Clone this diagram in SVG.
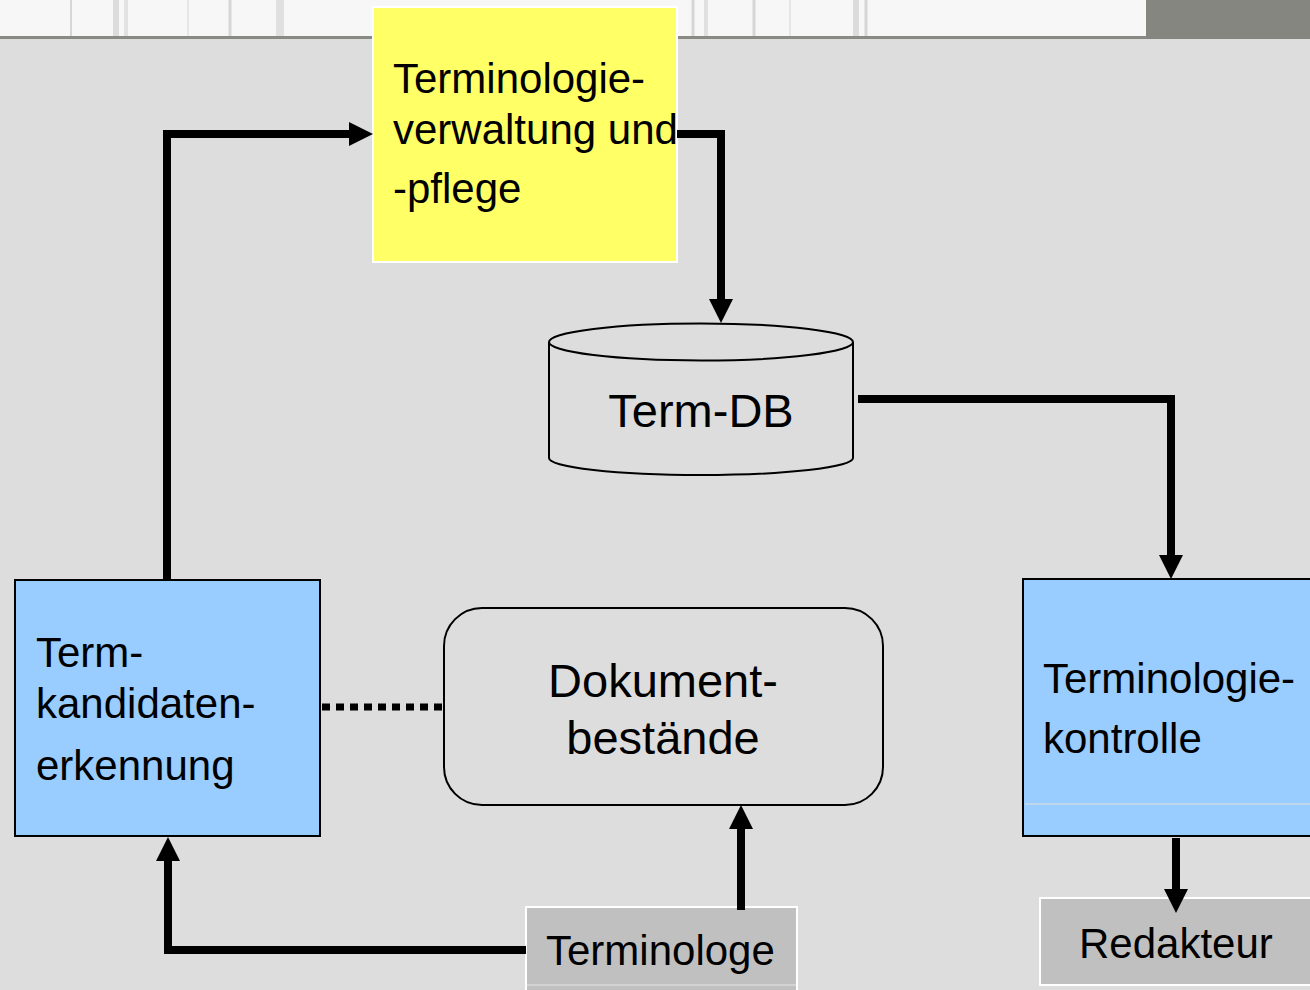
<svg xmlns="http://www.w3.org/2000/svg" width="1310" height="990" viewBox="0 0 1310 990">
<defs>
<style>
.t{font-family:"Liberation Sans",Arial,sans-serif;font-size:42px;fill:#000}
.tb{font-family:"Liberation Sans",Arial,sans-serif;font-size:47px;fill:#000}
.c{fill:none;stroke:#000;stroke-width:8;stroke-linejoin:miter}
.blue{fill:#99ccff;stroke:#000;stroke-width:2}
.grey{fill:#c0c0c0;stroke:#fff;stroke-width:2}
.streak{stroke:#d6d6d6;stroke-width:3}
</style>
<marker id="ah" viewBox="0 0 10 10" markerWidth="24" markerHeight="24" markerUnits="userSpaceOnUse" refX="0" refY="5" orient="auto">
<path d="M0,0 L10,5 L0,10 z" fill="#000"/>
</marker>
</defs>
<rect x="0" y="0" width="1310" height="990" fill="#dddddd"/>
<g id="topstrip">
<rect x="0" y="0" width="1146" height="36" fill="#f7f7f7"/>
<g class="streak">
<line x1="71" y1="0" x2="71" y2="36" stroke-width="2"/>
<line x1="116" y1="0" x2="116" y2="36" stroke-width="6" stroke="#dcdcdc"/>
<line x1="126" y1="0" x2="126" y2="36" stroke-width="4" stroke="#e2e2e2"/>
<line x1="188" y1="0" x2="188" y2="36" stroke-width="1"/>
<line x1="230" y1="0" x2="230" y2="36" stroke-width="3"/>
<line x1="280" y1="0" x2="280" y2="36" stroke-width="8" stroke="#e0e0e0"/>
<line x1="693" y1="0" x2="693" y2="36" stroke-width="3"/>
<line x1="706" y1="0" x2="706" y2="36" stroke-width="4" stroke="#e0e0e0"/>
<line x1="754" y1="0" x2="754" y2="36" stroke-width="3"/>
<line x1="790" y1="0" x2="790" y2="36" stroke-width="1"/>
<line x1="856" y1="0" x2="856" y2="36" stroke-width="6" stroke="#dcdcdc"/>
<line x1="866" y1="0" x2="866" y2="36" stroke-width="3"/>
</g>
<rect x="0" y="36" width="1146" height="3" fill="#8a8a84"/>
<rect x="1146" y="0" width="164" height="39" fill="#868680"/>
</g>
<g id="verwaltung">
<rect x="373" y="7" width="304" height="255" fill="#ffff66" stroke="#fff" stroke-width="2"/>
<text class="t" x="393" y="93">Terminologie-</text>
<text class="t" x="393" y="144">verwaltung und</text>
<text class="t" x="393" y="203">-pflege</text>
</g>
<g id="termdb">
<path d="M549,342 V458 A152,17 0 0 0 853,458 V342" fill="#dddddd" stroke="#000" stroke-width="2"/>
<ellipse cx="701" cy="342" rx="152" ry="18.5" fill="#dddddd" stroke="#000" stroke-width="2"/>
<text class="tb" x="701" y="427" text-anchor="middle">Term-DB</text>
</g>
<g id="kandidaten">
<rect x="15" y="580" width="305" height="256" class="blue"/>
<text class="t" x="36" y="667">Term-</text>
<text class="t" x="36" y="718">kandidaten-</text>
<text class="t" x="36" y="780">erkennung</text>
</g>
<g id="dokument">
<rect x="444" y="608" width="439" height="197" rx="38" ry="38" fill="none" stroke="#000" stroke-width="2"/>
<text class="tb" x="663" y="697" text-anchor="middle">Dokument-</text>
<text class="tb" x="663" y="754" text-anchor="middle">bestände</text>
</g>
<g id="kontrolle">
<rect x="1023" y="579" width="300" height="257" class="blue"/>
<line x1="1025" y1="804" x2="1310" y2="804" stroke="#e6e2d6" stroke-width="1"/>
<text class="t" x="1043" y="693">Terminologie-</text>
<text class="t" x="1043" y="753">kontrolle</text>
</g>
<g id="terminologe">
<rect x="526" y="907" width="271" height="90" class="grey"/>
<line x1="527" y1="985" x2="796" y2="985" stroke="#e6e6e6" stroke-width="1"/>
<text class="t" x="546" y="965">Terminologe</text>
</g>
<g id="redakteur">
<rect x="1040" y="898" width="280" height="87" class="grey"/>
<text class="t" x="1079" y="958">Redakteur</text>
</g>
<g id="connectors">
<path class="c" d="M167,580 V134 H349" marker-end="url(#ah)"/>
<path class="c" d="M677,134 H721 V299" marker-end="url(#ah)"/>
<path class="c" d="M858,399 H1171 V555" marker-end="url(#ah)"/>
<path class="c" d="M526,950 H168 V861" marker-end="url(#ah)"/>
<path class="c" d="M741,910 V829" marker-end="url(#ah)"/>
<path class="c" d="M1176,838 V889" marker-end="url(#ah)"/>
<path d="M322,707 H448" fill="none" stroke="#000" stroke-width="7" stroke-dasharray="8 6"/>
</g>
</svg>
